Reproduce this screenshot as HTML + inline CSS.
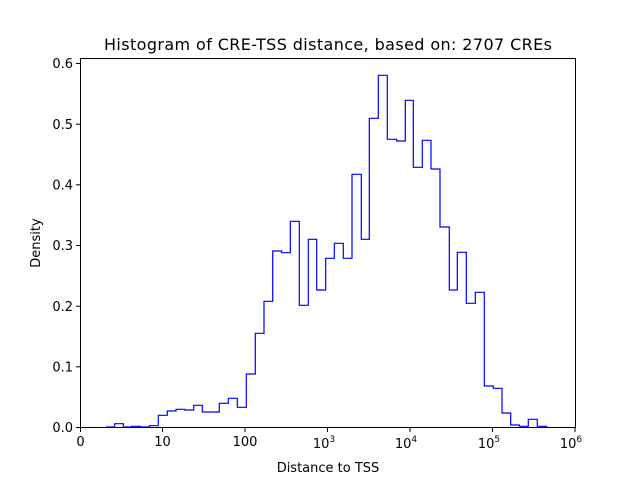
<!DOCTYPE html>
<html><head><meta charset="utf-8"><style>body{margin:0;background:#fff}svg{display:block}</style></head><body>
<svg width="640" height="480" xmlns="http://www.w3.org/2000/svg" font-family="DejaVu Sans, Liberation Sans, sans-serif" font-size="13">
<rect width="640" height="480" fill="#fff"/>
<text x="328" y="50" font-size="16" text-anchor="middle" textLength="448">Histogram of CRE-TSS distance, based on: 2707 CREs</text>
<polyline fill="none" stroke="#0000ff" stroke-width="1.2" points="
106,427 114.7,427 114.7,423.7 123.3,423.7 123.3,427 131.7,427 131.7,426.3 140.7,426.3 140.7,427 149.3,427 149.3,425.7 158.3,425.7 158.3,415.3 167.3,415.3 167.3,411 176,411 176,409.3 184.7,409.3 184.7,410 193.7,410 193.7,405.3 202.3,405.3 202.3,412 219.3,412 219.3,403.3 228.3,403.3 228.3,398.3 237.3,398.3 237.3,407.3 246.3,407.3 246.3,374 255.3,374 255.3,333.3 264,333.3 264,301.3 272.7,301.3 272.7,251 281.7,251 281.7,252.7 290.3,252.7 290.3,221.3 299.3,221.3 299.3,305.3 308.3,305.3 308.3,239.3 316.7,239.3 316.7,290 325.7,290 325.7,258.3 334.3,258.3 334.3,243.3 343.3,243.3 343.3,258.3 352,258.3 352,174.3 361.3,174.3 361.3,239.3 369.3,239.3 369.3,118.3 378.3,118.3 378.3,75.3 387.3,75.3 387.3,139.3 396.7,139.3 396.7,141 405.3,141 405.3,100.3 413.3,100.3 413.3,167.3 422.3,167.3 422.3,140.3 431,140.3 431,169 440,169 440,227 449.3,227 449.3,290 457.3,290 457.3,252.3 466.3,252.3 466.3,303.3 475.3,303.3 475.3,292.3 484.3,292.3 484.3,386 493.3,386 493.3,388.3 502,388.3 502,413 510.7,413 510.7,425 519.3,425 519.3,426.3 528.3,426.3 528.3,419.3 537.3,419.3 537.3,426.3 546.7,426.3 546.7,427"/>
<rect x="80.5" y="58.5" width="495" height="369" fill="none" stroke="#000" stroke-width="1"/>
<g stroke="#000">
<line x1="80.5" y1="427" x2="80.5" y2="432"/><line x1="162.5" y1="427" x2="162.5" y2="432"/><line x1="245" y1="427" x2="245" y2="432"/><line x1="327.5" y1="427" x2="327.5" y2="432"/><line x1="410" y1="427" x2="410" y2="432"/><line x1="492.5" y1="427" x2="492.5" y2="432"/><line x1="575" y1="427" x2="575" y2="432"/>
<line x1="76" y1="427.5" x2="80.5" y2="427.5"/><line x1="76" y1="366.8" x2="80.5" y2="366.8"/><line x1="76" y1="306.2" x2="80.5" y2="306.2"/><line x1="76" y1="245.5" x2="80.5" y2="245.5"/><line x1="76" y1="184.8" x2="80.5" y2="184.8"/><line x1="76" y1="124.2" x2="80.5" y2="124.2"/><line x1="76" y1="63.5" x2="80.5" y2="63.5"/>
</g>
<g text-anchor="middle">
<text x="80.5" y="446">0</text><text x="162.5" y="446">10</text><text x="245" y="446">100</text>
<text x="324" y="448">10<tspan font-size="9" dy="-6">3</tspan></text>
<text x="406" y="448">10<tspan font-size="9" dy="-6">4</tspan></text>
<text x="489" y="448">10<tspan font-size="9" dy="-6">5</tspan></text>
<text x="571" y="448">10<tspan font-size="9" dy="-6">6</tspan></text>
<text x="328" y="472">Distance to TSS</text>
</g>
<g text-anchor="end">
<text x="73" y="432">0.0</text><text x="73" y="371.5">0.1</text><text x="73" y="311">0.2</text><text x="73" y="250">0.3</text><text x="73" y="189.5">0.4</text><text x="73" y="129">0.5</text><text x="73" y="68">0.6</text>
</g>
<text transform="translate(40,243) rotate(-90)" text-anchor="middle">Density</text>
</svg>
</body></html>
